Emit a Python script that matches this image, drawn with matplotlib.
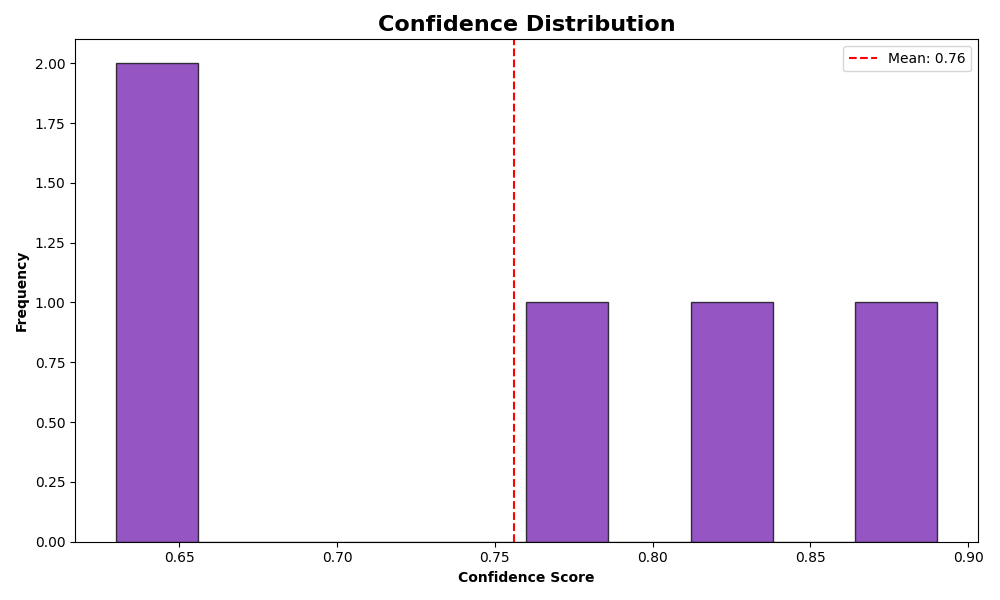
import matplotlib
matplotlib.use("Agg")
import matplotlib.pyplot as plt
import numpy as np

confidence_scores = [0.63, 0.65, 0.78, 0.83, 0.89]
mean_val = float(np.mean(confidence_scores))

fig, ax = plt.subplots(figsize=(10, 6), dpi=100)
ax.hist(confidence_scores, bins=10, color='#9556c4', edgecolor=(0, 0, 0, 0.75), linewidth=1)
ax.axvline(mean_val, color='red', linestyle='--', linewidth=1.5, label=f'Mean: {mean_val:.2f}')
ax.set_title('Confidence Distribution', fontsize=16, fontweight='bold')
ax.set_xlabel('Confidence Score', fontweight='bold')
ax.set_ylabel('Frequency', fontweight='bold')
ax.legend(loc='upper right')
fig.tight_layout()
fig.savefig('out.png')
